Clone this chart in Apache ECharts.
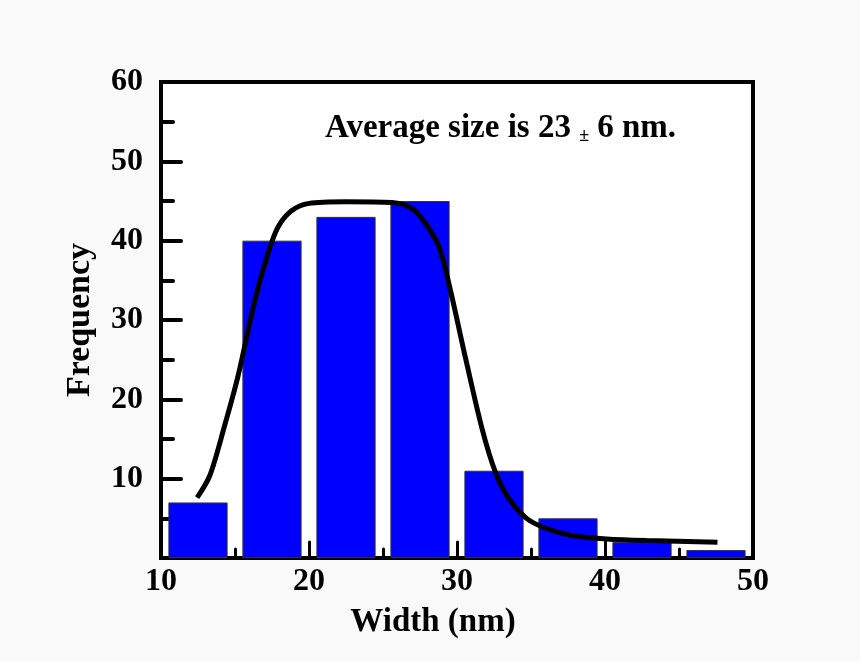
<!DOCTYPE html>
<html><head><meta charset="utf-8">
<script src="https://cdn.jsdelivr.net/npm/echarts@6/dist/echarts.min.js"></script>
<style>html,body{margin:0;padding:0;background:#f9f9f9}#c{width:860px;height:661px}</style>
</head><body><div id="c"></div>
<script>
const binCenters = [12.5, 17.5, 22.5, 27.5, 32.5, 37.5, 42.5, 47.5];
const frequencies = [7, 40, 43, 45, 11, 5, 2, 1];
const fitX = [12.44, 13.3, 14.3, 15.2, 16.35, 17.25, 17.9, 18.8, 20.0, 22.45, 25.6, 27.0, 27.9, 28.8, 29.5, 30.6, 31.7, 32.6, 33.5, 34.7, 36.0, 37.8, 40.1, 42.8, 47.6];
const fitY = [7.6, 10.4, 16.7, 22.9, 32.5, 38.5, 41.7, 43.75, 44.7, 44.9, 44.8, 44.0, 42.1, 39.2, 34.2, 25, 16.25, 10.8, 7.5, 5.0, 3.75, 2.8, 2.4, 2.2, 2.0];
const xTicks = [10, 20, 30, 40, 50];
const yTicks = [10, 20, 30, 40, 50, 60];

const font = '"Liberation Serif","Times New Roman",serif';
const chart = echarts.init(document.getElementById('c'));
chart.setOption({
  backgroundColor: '#f9f9f9',
  animation: false,
  grid: {left: 161, right: 107, top: 82, bottom: 103, show: true, backgroundColor: '#ffffff', borderColor: '#000', borderWidth: 4},
  title: {
    text: '{a|Average size is 23 }{b|±}{a| 6 nm.}',
    left: 320, top: 107,
    textStyle: {rich: {
      a: {fontFamily: font, fontWeight: 'bold', fontSize: 33, color: '#000'},
      b: {fontFamily: font, fontWeight: 'bold', fontSize: 18, color: '#000', verticalAlign: 'bottom', padding: [10, 0, 0, 0]}
    }}
  },
  xAxis: {
    type: 'value', min: xTicks[0], max: xTicks[xTicks.length - 1], interval: 10,
    name: 'Width (nm)', nameLocation: 'middle', nameGap: 48,
    nameTextStyle: {fontFamily: font, fontWeight: 'bold', fontSize: 33, color: '#000', padding: [0, 48, 0, 0]},
    axisLine: {show: true, lineStyle: {color: '#000', width: 4}},
    axisTick: {show: true, inside: true, length: 16, lineStyle: {color: '#000', width: 3, cap: 'round'}},
    minorTick: {show: true, splitNumber: 2, length: 9, lineStyle: {color: '#000', width: 3, cap: 'round'}},
    axisLabel: {fontFamily: font, fontWeight: 'bold', fontSize: 32, color: '#000', margin: 8},
    splitLine: {show: false}
  },
  yAxis: {
    type: 'value', min: 0, max: yTicks[yTicks.length - 1], interval: 10,
    name: 'Frequency', nameLocation: 'middle', nameGap: 64,
    nameTextStyle: {fontFamily: font, fontWeight: 'bold', fontSize: 34, color: '#000'},
    axisLine: {show: true, lineStyle: {color: '#000', width: 4}},
    axisTick: {show: true, inside: true, length: 20, lineStyle: {color: '#000', width: 4, cap: 'round'}},
    minorTick: {show: true, splitNumber: 2, length: 12, lineStyle: {color: '#000', width: 4, cap: 'round'}},
    axisLabel: {fontFamily: font, fontWeight: 'bold', fontSize: 32, color: '#000', margin: 18,
      formatter: v => (yTicks.indexOf(v) >= 0 ? String(v) : '')},
    splitLine: {show: false}
  },
  series: [
    {
      type: 'bar', barWidth: '80%',
      data: binCenters.map((x, i) => [x, frequencies[i]]),
      itemStyle: {color: '#0000ff', borderColor: '#333', borderWidth: 1},
      z: 2
    },
    {
      type: 'line', smooth: 0.3, showSymbol: false,
      data: fitX.map((x, i) => [x, fitY[i]]),
      lineStyle: {color: '#000', width: 5},
      z: 3
    }
  ]
});
</script></body></html>
